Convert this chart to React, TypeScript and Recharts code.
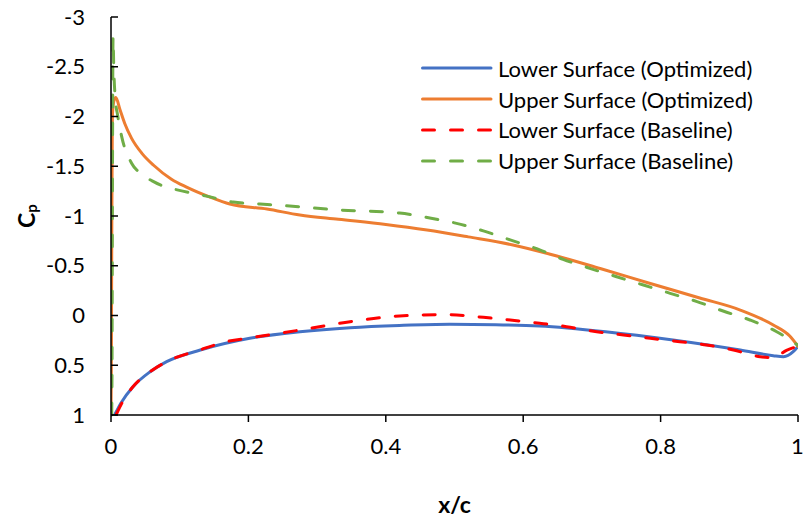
import React from 'react';
import { LineChart, Line, XAxis, YAxis, Legend } from 'recharts';

// x/c positions and pressure coefficients
const lowerOptX = [0.006, 0.015, 0.032, 0.057, 0.081, 0.13, 0.202, 0.275, 0.348, 0.42, 0.493, 0.56, 0.624, 0.72, 0.818, 0.916, 0.964, 0.979, 0.993, 1.0];
const lowerOptCp = [0.99, 0.875, 0.716, 0.565, 0.464, 0.347, 0.229, 0.163, 0.122, 0.1, 0.088, 0.092, 0.105, 0.163, 0.246, 0.347, 0.404, 0.414, 0.364, 0.31];

const upperOptX = [0.0, 0.0005, 0.001, 0.002, 0.004, 0.007, 0.013, 0.02, 0.03, 0.045, 0.062, 0.088, 0.11, 0.144, 0.173, 0.227, 0.275, 0.331, 0.4, 0.46, 0.52, 0.585, 0.649, 0.712, 0.785, 0.857, 0.916, 0.964, 0.988, 1.0];
const upperOptCp = [1.0, 0.5, -0.5, -2.0, -2.15, -2.19, -2.07, -1.93, -1.78, -1.63, -1.51, -1.37, -1.29, -1.19, -1.12, -1.07, -1.01, -0.967, -0.915, -0.859, -0.79, -0.709, -0.598, -0.472, -0.322, -0.176, -0.055, 0.095, 0.206, 0.31];

const lowerBaseX = [0.008, 0.017, 0.032, 0.057, 0.081, 0.13, 0.168, 0.202, 0.275, 0.348, 0.42, 0.489, 0.542, 0.581, 0.624, 0.663, 0.707, 0.746, 0.785, 0.828, 0.867, 0.906, 0.945, 0.964, 0.984, 1.0];
const lowerBaseCp = [0.99, 0.865, 0.716, 0.565, 0.464, 0.345, 0.263, 0.225, 0.146, 0.062, 0.005, -0.008, 0.018, 0.045, 0.078, 0.112, 0.163, 0.196, 0.229, 0.263, 0.296, 0.347, 0.414, 0.424, 0.347, 0.31];

const upperBaseX = [0.001, 0.0015, 0.002, 0.003, 0.004, 0.006, 0.01, 0.0155, 0.03, 0.045, 0.062, 0.08, 0.098, 0.139, 0.178, 0.217, 0.26, 0.333, 0.42, 0.464, 0.503, 0.542, 0.581, 0.624, 0.658, 0.697, 0.736, 0.775, 0.814, 0.853, 0.891, 0.93, 0.969, 1.0];
const upperBaseCp = [1.0, 0.5, -1.0, -2.8, -2.5, -2.2, -2.0, -1.8, -1.53, -1.42, -1.345, -1.29, -1.26, -1.2, -1.14, -1.12, -1.1, -1.06, -1.03, -0.98, -0.926, -0.85, -0.76, -0.66, -0.565, -0.474, -0.39, -0.306, -0.223, -0.14, -0.045, 0.045, 0.163, 0.3];

const xTicks = [0, 0.2, 0.4, 0.6, 0.8, 1];
const yTicks = [-3, -2.5, -2, -1.5, -1, -0.5, 0, 0.5, 1];

const seriesNames = ['Lower Surface (Optimized)', 'Upper Surface (Optimized)', 'Lower Surface (Baseline)', 'Upper Surface (Baseline)'];
const seriesColors = ['#4472C4', '#ED7D31', '#FF0000', '#70AD47'];
const seriesDashed = [false, false, true, true];

const toPoints = (xs: number[], ys: number[]) => xs.map((x, i) => ({ x, cp: ys[i] }));
const seriesData = [
  toPoints(lowerOptX, lowerOptCp),
  toPoints(upperOptX, upperOptCp),
  toPoints(lowerBaseX, lowerBaseCp),
  toPoints(upperBaseX, upperBaseCp),
];

const FONT = 'Lato, "Open Sans", sans-serif';
const DASH = '12 16';

const YTick = (props: any) => {
  const { x, y, payload } = props;
  return (
    <g>
      <line x1={x} x2={x + 7} y1={y} y2={y} stroke="#000" strokeWidth={1.5} />
      <text x={x - 26} y={y} dy="0.35em" textAnchor="end" fontFamily={FONT} fontSize={22} fill="#000">
        {String(payload.value)}
      </text>
    </g>
  );
};

const renderLegend = () => (
  <div style={{ fontFamily: FONT, fontSize: 22, color: '#000' }}>
    {seriesNames.map((name, i) => (
      <div key={name} style={{ display: 'flex', alignItems: 'center', height: 30.8 }}>
        <svg width={72} height={10} style={{ marginRight: 5 }}>
          <line
            x1={1.5}
            x2={70}
            y1={5}
            y2={5}
            stroke={seriesColors[i]}
            strokeWidth={3}
            strokeLinecap="round"
            strokeDasharray={seriesDashed[i] ? DASH : undefined}
          />
        </svg>
        <span style={{ whiteSpace: 'nowrap' }}>{name}</span>
      </div>
    ))}
  </div>
);

const CpLabel = (props: any) => {
  const vb = props.viewBox;
  const cx = vb.x + 26;
  const cy = vb.y + vb.height / 2;
  return (
    <text
      x={cx}
      y={cy}
      transform={`rotate(-90, ${cx}, ${cy})`}
      textAnchor="middle"
      dominantBaseline="central"
      fontFamily={FONT}
      fontWeight="bold"
      fontSize={23}
      fill="#000"
    >
      <tspan>C</tspan>
      <tspan fontSize={15} dy={5}>p</tspan>
    </text>
  );
};

const XcLabel = (props: any) => {
  const vb = props.viewBox;
  return (
    <text
      x={vb.x + vb.width / 2}
      y={vb.y + 89}
      textAnchor="middle"
      dominantBaseline="central"
      fontFamily={FONT}
      fontWeight="bold"
      fontSize={23}
      fill="#000"
    >
      x/c
    </text>
  );
};

export default function App() {
  return (
    <div style={{ position: 'absolute', left: 0, top: 0, width: 803, height: 520, background: '#fff' }}>
      <LineChart width={803} height={520} margin={{ top: 17, right: 5, left: 0, bottom: 0 }}>
        <XAxis
          dataKey="x"
          type="number"
          domain={[0, 1]}
          ticks={xTicks}
          allowDataOverflow
          height={105}
          tickSize={7}
          tickMargin={16}
          axisLine={{ stroke: '#000', strokeWidth: 1.5 }}
          tickLine={{ stroke: '#000', strokeWidth: 1.5 }}
          tick={{ fontFamily: FONT, fontSize: 22, fill: '#000' }}
          tickFormatter={(v: number) => String(v)}
          label={<XcLabel />}
        />
        <XAxis
          xAxisId="top"
          orientation="top"
          dataKey="x"
          type="number"
          domain={[0, 1]}
          height={0}
          tick={false}
          tickLine={false}
          axisLine={{ stroke: '#000', strokeWidth: 1.5 }}
        />
        <YAxis
          type="number"
          domain={[-3, 1]}
          reversed
          ticks={yTicks}
          width={111}
          tickSize={0}
          tickMargin={0}
          tickLine={false}
          axisLine={{ stroke: '#000', strokeWidth: 1.5 }}
          tick={<YTick />}
          label={<CpLabel />}
        />
        <Legend
          layout="vertical"
          align="center"
          verticalAlign="middle"
          content={renderLegend}
          wrapperStyle={{ left: 421, top: 53, width: 'auto' }}
        />
        {seriesData.map((d, i) => (
          <Line
            key={seriesNames[i]}
            data={d}
            dataKey="cp"
            name={seriesNames[i]}
            type="monotone"
            stroke={seriesColors[i]}
            strokeWidth={3}
            strokeLinecap="round"
            strokeDasharray={seriesDashed[i] ? DASH : undefined}
            dot={false}
            activeDot={false}
            isAnimationActive={false}
          />
        ))}
      </LineChart>
    </div>
  );
}
